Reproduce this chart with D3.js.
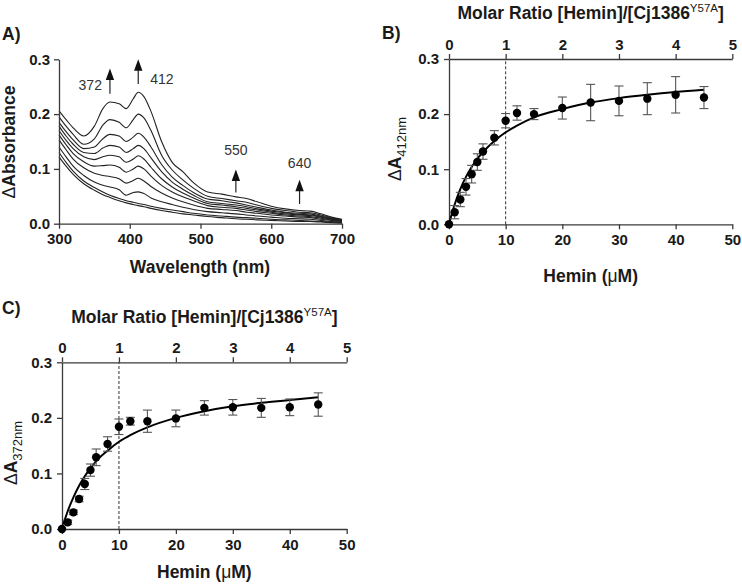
<!DOCTYPE html>
<html><head><meta charset="utf-8">
<script src="https://cdn.jsdelivr.net/npm/d3@7"></script>
<style>
body{margin:0;background:#fff}
text{font-family:"Liberation Sans",Arial,Helvetica,sans-serif}
</style>
</head><body>
<svg id="chart" width="742" height="584"></svg>
<script>
// ---------- Panel A data: difference spectra ----------
const wavelengths = [300,310,320,335,350,362,372,385,395,405,412,420,430,445,460,475,490,510,530,550,565,580,600,620,640,655,670,685,700];
const spectrum1  = [.206,.190,.175,.160,.178,.210,.222,.219,.210,.228,.240,.232,.205,.150,.112,.095,.075,.058,.054,.049,.046,.040,.032,.027,.024,.023,.018,.012,.008];
const spectrum2  = [.195,.178,.163,.145,.155,.180,.190,.185,.175,.190,.200,.193,.170,.125,.098,.080,.065,.050,.046,.042,.039,.034,.028,.024,.021,.020,.016,.011,.007];
const spectrum3  = [.185,.168,.153,.137,.140,.155,.163,.160,.150,.158,.165,.158,.140,.108,.085,.070,.057,.045,.042,.038,.034,.030,.025,.021,.019,.018,.014,.010,.007];
const spectrum4  = [.178,.160,.145,.130,.128,.138,.143,.140,.130,.137,.143,.137,.120,.095,.076,.063,.052,.040,.037,.034,.031,.027,.023,.020,.017,.016,.013,.009,.006];
const spectrum5  = [.170,.152,.137,.122,.117,.122,.125,.122,.112,.118,.124,.118,.103,.082,.067,.056,.047,.037,.034,.031,.028,.025,.021,.018,.016,.015,.012,.008,.006];
const spectrum6  = [.162,.144,.128,.113,.105,.106,.107,.103,.094,.100,.105,.100,.087,.070,.058,.049,.042,.033,.030,.028,.025,.022,.019,.016,.014,.013,.010,.007,.005];
const spectrum7  = [.153,.135,.118,.102,.092,.088,.086,.082,.074,.079,.083,.078,.068,.056,.047,.040,.034,.028,.026,.024,.021,.019,.016,.014,.012,.011,.008,.006,.004];
const spectrum8  = [.140,.122,.105,.088,.076,.070,.067,.062,.052,.057,.058,.055,.047,.040,.035,.030,.026,.022,.020,.018,.016,.014,.012,.010,.009,.008,.006,.004,.003];
const spectrum9  = [.130,.112,.096,.078,.066,.058,.052,.046,.042,.039,.037,.035,.032,.028,.025,.022,.019,.016,.014,.012,.011,.010,.008,.007,.006,.005,.004,.003,.002];
const spectrum10 = [.122,.105,.090,.073,.061,.053,.048,.042,.038,.035,.033,.031,.028,.024,.021,.018,.016,.013,.011,.009,.008,.007,.006,.005,.004,.004,.003,.002,.001];
const spectra = [spectrum1,spectrum2,spectrum3,spectrum4,spectrum5,spectrum6,spectrum7,spectrum8,spectrum9,spectrum10];
const peakLabels = ["372","412","550","640"];
const peakWavelengths = [372,412,550,640];
const arrowBase = [0.237,0.255,0.057,0.036];
const arrowTip  = [0.283,0.300,0.099,0.080];
const labelLevel = [0.253,0.264,0.134,0.110];
const xTicksA = [300,400,500,600,700];
const yTicks = [0,0.1,0.2,0.3];

// ---------- Panels B & C data: titrations ----------
const hemin  = [0,1,2,3,4,5,6,8,10,12,15,20,25,30,35,40,45];
const dA412  = [0,.022,.045,.068,.091,.113,.132,.157,.188,.202,.200,.211,.221,.224,.228,.235,.230];
const err412 = [0,.012,.013,.015,.016,.015,.014,.013,.013,.013,.010,.020,.033,.027,.029,.033,.020];
const dA372  = [0,.012,.030,.054,.081,.106,.129,.153,.184,.194,.194,.199,.218,.219,.218,.219,.224];
const err372 = [0,.004,.004,.005,.010,.011,.015,.013,.014,.007,.020,.015,.013,.014,.017,.015,.021];
const fitX   = [0,0.5,1,2,3,4,5,6,8,10,12,15,20,25,30,35,40,45];
const fit412 = [0,.019,.036,.064,.086,.104,.119,.131,.151,.167,.179,.194,.209,.221,.229,.235,.240,.244];
const fit372 = [0,.017,.032,.057,.078,.095,.109,.122,.141,.157,.169,.183,.200,.212,.221,.227,.232,.237];
const xTicksHemin = [0,10,20,30,40,50];
const xTicksRatio = [0,1,2,3,4,5];

const svg = d3.select("#chart");
svg.append("rect").attr("width",742).attr("height",584).attr("fill","#fff");

const AX = "#3a3a3a", TXT = "#1a1a1a";
const fmtY = d3.format(".1f");
const fmtInt = d3.format("d");

function styleAxis(g, size){
  g.select(".domain").attr("stroke",AX).attr("stroke-width",1.3);
  g.selectAll(".tick line").attr("stroke",AX).attr("stroke-width",1.3);
  g.selectAll(".tick text").attr("fill",TXT).attr("font-size",size).attr("font-weight","bold")
    .attr("font-family",'"Liberation Sans",Arial,sans-serif');
}

// ================= Panel A =================
{
  const x = d3.scaleLinear().domain([300,700]).range([59,342]);
  const y = d3.scaleLinear().domain([0,0.3]).range([223.7,59.3]);
  const g = svg.append("g");
  const line = d3.line().x((d,i)=>x(wavelengths[i])).y(d=>y(d)).curve(d3.curveMonotoneX);
  g.selectAll("path.spec").data(spectra).join("path").attr("class","spec")
    .attr("d",line).attr("fill","none").attr("stroke","#222").attr("stroke-width",1.1);

  const gx = g.append("g").attr("transform",`translate(0,${y(0)})`)
    .call(d3.axisBottom(x).tickValues(xTicksA).tickFormat(fmtInt).tickSize(5).tickSizeOuter(0).tickPadding(5));
  styleAxis(gx,15);
  const gy = g.append("g").attr("transform",`translate(${x(300)},0)`)
    .call(d3.axisLeft(y).tickValues(yTicks).tickFormat(fmtY).tickSize(5).tickSizeOuter(0).tickPadding(4));
  styleAxis(gy,15);

  // arrows
  peakWavelengths.forEach((w,i)=>{
    const ax = x(w), yb = y(arrowBase[i]), yt = y(arrowTip[i]);
    g.append("line").attr("x1",ax).attr("x2",ax).attr("y1",yb).attr("y2",yt+10)
      .attr("stroke","#222").attr("stroke-width",1.2);
    g.append("path").attr("d",`M${ax},${yt} L${ax-4.2},${yt+11.5} L${ax+4.2},${yt+11.5} Z`).attr("fill","#111");
    let tx = ax, anchor="middle";
    if(i===0){tx = ax-8; anchor="end";}
    if(i===1){tx = ax+12; anchor="start";}
    g.append("text").attr("x",tx).attr("y",y(labelLevel[i])).attr("dy","0.36em")
      .attr("text-anchor",anchor).attr("font-size",14).attr("fill","#333").text(peakLabels[i]);
  });

  g.append("text").attr("x",200).attr("y",273).attr("text-anchor","middle")
    .attr("font-size",17.5).attr("font-weight","bold").attr("fill",TXT).text("Wavelength (nm)");
  const yt = g.append("text").attr("transform","translate(15,142) rotate(-90)").attr("text-anchor","middle")
    .attr("font-size",17.5).attr("fill",TXT);
  yt.append("tspan").text("Δ");
  yt.append("tspan").attr("font-weight","bold").text("Absorbance");
  svg.append("text").attr("x",2).attr("y",40).attr("font-size",17.5).attr("font-weight","bold").attr("fill",TXT).text("A)");
}

// ================= Titration panels =================
function titration(o){
  const x = d3.scaleLinear().domain([0,50]).range([o.x0,o.x1]);
  const xr = d3.scaleLinear().domain([0,5]).range([o.x0,o.x1]);
  const y = d3.scaleLinear().domain([0,0.3]).range([o.yb,o.yt]);
  const g = svg.append("g");

  g.append("line").attr("x1",x(10)).attr("x2",x(10)).attr("y1",y(0)).attr("y2",y(0.3))
    .attr("stroke","#333").attr("stroke-width",1).attr("stroke-dasharray","3,2");

  const gx = g.append("g").attr("transform",`translate(0,${y(0)})`)
    .call(d3.axisBottom(x).tickValues(xTicksHemin).tickFormat(fmtInt).tickSize(5).tickSizeOuter(0).tickPadding(5));
  styleAxis(gx,15);
  const gt = g.append("g").attr("transform",`translate(0,${y(0.3)})`)
    .call(d3.axisTop(xr).tickValues(xTicksRatio).tickFormat(fmtInt).tickSize(5).tickSizeOuter(0).tickPadding(4));
  styleAxis(gt,15);
  const gy = g.append("g").attr("transform",`translate(${x(0)},0)`)
    .call(d3.axisLeft(y).tickValues(yTicks).tickFormat(fmtY).tickSize(5).tickSizeOuter(0).tickPadding(5));
  styleAxis(gy,15);

  // fit curve
  g.append("path").datum(o.fit)
    .attr("d",d3.line().x((d,i)=>x(fitX[i])).y(d=>y(d)).curve(d3.curveMonotoneX))
    .attr("fill","none").attr("stroke","#000").attr("stroke-width",2);

  // error bars
  const eb = g.append("g").attr("stroke","#555").attr("stroke-width",1.1);
  hemin.forEach((h,i)=>{
    const e = o.err[i]; if(!e) return;
    const cx = x(h), y1 = y(o.vals[i]-e), y2 = y(o.vals[i]+e);
    eb.append("line").attr("x1",cx).attr("x2",cx).attr("y1",y1).attr("y2",y2);
    eb.append("line").attr("x1",cx-4.5).attr("x2",cx+4.5).attr("y1",y1).attr("y2",y1);
    eb.append("line").attr("x1",cx-4.5).attr("x2",cx+4.5).attr("y1",y2).attr("y2",y2);
  });
  g.selectAll("circle").data(o.vals).join("circle")
    .attr("cx",(d,i)=>x(hemin[i])).attr("cy",d=>y(d)).attr("r",4.2).attr("fill","#000");

  // titles
  const cx = (o.x0+o.x1)/2;
  const tt = g.append("text").attr("x",cx).attr("y",o.topTitleY).attr("text-anchor","middle")
    .attr("font-size",17.5).attr("font-weight","bold").attr("fill",TXT);
  tt.append("tspan").text("Molar Ratio [Hemin]/[Cj1386");
  tt.append("tspan").attr("font-size",11.5).attr("font-weight","normal").attr("dy",-7).text("Y57A");
  tt.append("tspan").attr("dy",7).text("]");

  const bt = g.append("text").attr("x",cx).attr("y",o.botTitleY).attr("text-anchor","middle")
    .attr("font-size",17.5).attr("font-weight","bold").attr("fill",TXT);
  bt.append("tspan").text("Hemin (");
  bt.append("tspan").attr("font-weight","normal").text("μ");
  bt.append("tspan").text("M)");

  const yt = g.append("text").attr("transform",`translate(${o.yTitleX},${o.yTitleY}) rotate(-90)`)
    .attr("text-anchor","middle").attr("font-size",17.5).attr("fill",TXT);
  yt.append("tspan").text("Δ");
  yt.append("tspan").attr("font-weight","bold").text("A");
  yt.append("tspan").attr("font-size",13).attr("dy",5).text(o.sub);

  svg.append("text").attr("x",o.letterX).attr("y",o.letterY).attr("font-size",17.5)
    .attr("font-weight","bold").attr("fill",TXT).text(o.letter);
}

titration({x0:449,x1:732.3,yb:224.3,yt:59,vals:dA412,err:err412,fit:fit412,sub:"412nm",
  topTitleY:19,botTitleY:282,yTitleX:401,yTitleY:149,letter:"B)",letterX:382,letterY:39});
titration({x0:62,x1:346.7,yb:529,yt:362.3,vals:dA372,err:err372,fit:fit372,sub:"372nm",
  topTitleY:323,botTitleY:578,yTitleX:17,yTitleY:453,letter:"C)",letterX:2,letterY:314});
</script>
</body></html>
